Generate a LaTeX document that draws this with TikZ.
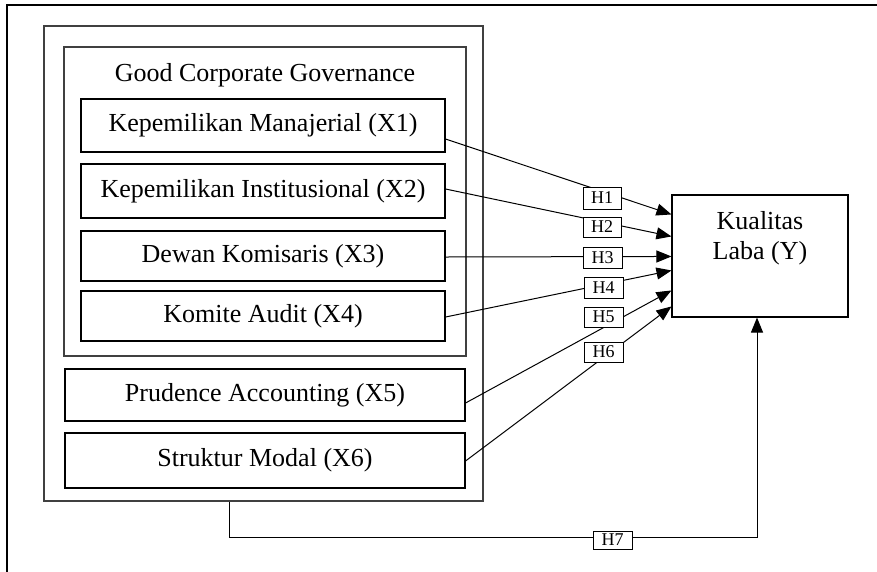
\documentclass[tikz,border=0pt]{standalone}
\usepackage{fontspec}
\setmainfont{Liberation Serif}
\usetikzlibrary{arrows.meta,calc}
\begin{document}
\begin{tikzpicture}[x=1pt,y=-1pt,
  box/.style={draw,line width=1.1pt,rectangle,inner sep=0pt,font=\fontsize{26}{30}\selectfont},
  frameline/.style={line width=1.1pt,draw=black!75},
  hbox/.style={draw,line width=1pt,fill=white,inner sep=0pt,font=\fontsize{18}{20}\selectfont},
  conn/.style={line width=1pt},
  arr/.style={conn,-{Triangle[length=15pt,width=12pt]}}]
\useasboundingbox (0,0) rectangle (877,571);
% page frame
\draw[line width=2.6pt] (7,590) -- (7,5) -- (890,5);
% boxes
\node[box,frameline,minimum width=439pt,minimum height=475pt] (outer) at (263.5,263.5) {};
\node[box,frameline,minimum width=402pt,minimum height=309pt] (gcg) at (265,201.5) {};
\node[font=\fontsize{26}{30}\selectfont,inner sep=0pt] (gcgt) at (265,75) {Good Corporate Governance};
\node[box,minimum width=364pt,minimum height=53pt] (x1) at (263,125.5) {Kepemilikan Manajerial (X1)};
\node[box,minimum width=364pt,minimum height=54pt] (x2) at (263,191) {Kepemilikan Institusional (X2)};
\node[box,minimum width=364pt,minimum height=50pt] (x3) at (263,256) {Dewan Komisaris (X3)};
\node[box,minimum width=364pt,minimum height=50pt] (x4) at (263,316) {Komite Audit (X4)};
\node[box,minimum width=400pt,minimum height=52pt] (x5) at (265,395) {Prudence Accounting (X5)};
\node[box,minimum width=400pt,minimum height=55pt] (x6) at (265,460.5) {Struktur Modal (X6)};
\node[box,minimum width=176pt,minimum height=122pt] (ky) at (760,256) {};
\node[font=\fontsize{26}{30}\selectfont,align=center,inner sep=0pt] (kyt) at (760,238) {Kualitas\\Laba (Y)};
% targets
\coordinate (t1) at ($(ky.north west)+(0,20)$);
\coordinate (t2) at ($(ky.north west)+(0,42)$);
\coordinate (t3) at ($(ky.north west)+(0,62)$);
\coordinate (t4) at ($(ky.north west)+(0,76)$);
\coordinate (t5) at ($(ky.north west)+(0,96)$);
\coordinate (t6) at ($(ky.north west)+(0,112)$);
\coordinate (b2) at (757,537);
% connectors
\draw[arr] ([yshift=-13.5pt]x1.east) -- (t1);
\draw[arr] ([yshift=2pt]x2.east) -- (t2);
\draw[arr] ([yshift=-1pt]x3.east) -- (t3);
\draw[arr] ([yshift=-1pt]x4.east) -- (t4);
\draw[arr] ([yshift=-8pt]x5.east) -- (t5);
\draw[arr] ([yshift=-0.5pt]x6.east) -- (t6);
\draw[arr] ([xshift=-34.5pt]outer.south) |- (b2) -- ([xshift=-3pt]ky.south);
% hypothesis labels
\node[hbox,minimum width=38pt,minimum height=22pt] (h1) at (602,198) {H1};
\node[hbox,minimum width=38pt,minimum height=20pt] (h2) at (602,227) {H2};
\node[hbox,minimum width=39pt,minimum height=21pt] (h3) at (602.5,257.5) {H3};
\node[hbox,minimum width=39pt,minimum height=21pt] (h4) at (603.5,287.5) {H4};
\node[hbox,minimum width=39pt,minimum height=20pt] (h5) at (603.5,317) {H5};
\node[hbox,minimum width=39pt,minimum height=20pt] (h6) at (603.5,352) {H6};
\node[hbox,minimum width=39pt,minimum height=18pt] (h7) at (612.5,540) {H7};
\end{tikzpicture}
\end{document}
